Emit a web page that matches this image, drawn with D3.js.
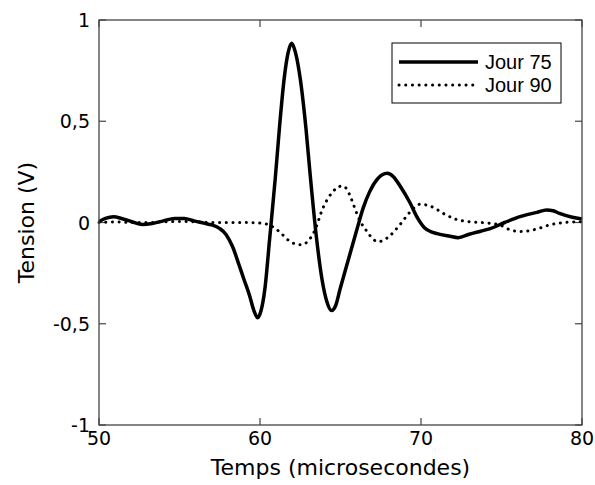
<!DOCTYPE html>
<html>
  <head>
    <style>
    body { margin: 0; background: #fff; }
    .tick-label { font-family: 'DejaVu Sans', sans-serif; font-size: 19px; fill: #000; }
    .axis-title { font-family: 'DejaVu Sans', sans-serif; font-size: 22px; fill: #000; }
    .legend-text { font-family: 'Liberation Sans', Arial, sans-serif; font-size: 20px; fill: #000; }
    </style>
  </head>
  <body>

    <svg width="595" height="485"></svg>

    <script src="https://cdn.jsdelivr.net/npm/d3@7"></script>
    <script>

      // Jour 75 (solid)
      const t75 = [50.0, 50.4, 50.9, 51.4, 52.0, 52.7, 53.3, 54.0, 54.7, 55.3, 55.9, 56.5, 57.0, 57.5, 57.9,
        58.3, 58.7, 59.0, 59.35, 59.6, 59.85, 60.05, 60.3, 60.6, 60.95, 61.2, 61.5, 61.75, 61.97, 62.2,
        62.5, 62.86, 63.1, 63.5, 63.85, 64.15, 64.45, 64.7, 64.97, 65.5, 66.0, 66.4, 66.8, 67.3, 67.9,
        68.3, 68.7, 69.3, 69.8, 70.2, 70.6, 71.0, 71.8, 72.3, 73.0, 73.7, 74.3, 75.2, 76.2, 77.2,
        77.8, 78.2, 78.6, 79.4, 80.0]
      const v75 = [0.005, 0.02, 0.028, 0.02, 0.005, -0.01, -0.005, 0.008, 0.02, 0.02, 0.008, -0.003, -0.012, -0.03, -0.06,
        -0.12, -0.21, -0.28, -0.36, -0.43, -0.47, -0.44, -0.33, -0.08, 0.22, 0.46, 0.71, 0.84, 0.885, 0.84,
        0.71, 0.46, 0.25, -0.07, -0.28, -0.39, -0.435, -0.41, -0.33, -0.18, -0.04, 0.07, 0.15, 0.215, 0.243,
        0.225, 0.18, 0.10, 0.02, -0.025, -0.045, -0.055, -0.068, -0.075, -0.058, -0.043, -0.03, 0.0, 0.03, 0.05,
        0.062, 0.058, 0.045, 0.026, 0.017]

      // Jour 90 (dotted)
      const t90 = [50, 51, 52, 53, 54, 55, 56, 57, 58, 59, 60, 60.5, 61.2, 61.8, 62.3, 62.6, 63.0, 63.4, 63.9,
        64.5, 64.8, 65.1, 65.4, 65.6, 66.2, 66.65, 67.0, 67.3, 67.6, 68.0, 68.7, 69.3, 69.95, 70.6, 71.5,
        72.2, 73.0, 74.3, 74.9, 75.5, 76.2, 77.1, 78.0, 78.9, 80]
      const v90 = [0.0, 0.003, 0.0, 0.0, 0.003, 0.005, 0.003, 0.0, 0.0, 0.0, -0.003, -0.01, -0.045, -0.09, -0.108, -0.11, -0.09, -0.04, 0.07,
        0.15, 0.172, 0.18, 0.165, 0.13, 0.01, -0.045, -0.08, -0.095, -0.09, -0.07, -0.01, 0.05, 0.09, 0.08, 0.04,
        0.015, 0.004, -0.004, -0.012, -0.035, -0.045, -0.034, -0.012, 0.0, 0.004]

      const xTicks = [50, 60, 70, 80]
      const yTicks = [-1, -0.5, 0, 0.5, 1]
      const legendLabels = ['Jour 75', 'Jour 90']

      const svg = d3.select('svg')
      const margin = {top: 20, right: 13, bottom: 60, left: 99}
      const width = +svg.attr('width') - margin.left - margin.right
      const height = +svg.attr('height') - margin.top - margin.bottom

      const x = d3.scaleLinear().domain([50, 80]).range([0, width])
      const y = d3.scaleLinear().domain([-1, 1]).range([height, 0])

      const chart = svg.append('g')
          .attr('transform', 'translate(' + margin.left + ',' + margin.top + ')')

      const fmt = d => String(d).replace('.', ',')
      const tickLen = 7
      const axisColor = '#444'

      // inward ticks on all four sides
      chart.selectAll('.xt').data(xTicks).enter().append('g').each(function (d) {
        const g = d3.select(this)
        g.append('line').attr('x1', x(d)).attr('x2', x(d)).attr('y1', height).attr('y2', height - tickLen)
          .attr('stroke', axisColor).attr('stroke-width', 1.2)
        g.append('line').attr('x1', x(d)).attr('x2', x(d)).attr('y1', 0).attr('y2', tickLen)
          .attr('stroke', axisColor).attr('stroke-width', 1.2)
      })
      chart.selectAll('.yt').data(yTicks).enter().append('g').each(function (d) {
        const g = d3.select(this)
        g.append('line').attr('x1', 0).attr('x2', tickLen).attr('y1', y(d)).attr('y2', y(d))
          .attr('stroke', axisColor).attr('stroke-width', 1.2)
        g.append('line').attr('x1', width).attr('x2', width - tickLen).attr('y1', y(d)).attr('y2', y(d))
          .attr('stroke', axisColor).attr('stroke-width', 1.2)
      })

      chart.selectAll('.xl').data(xTicks).enter().append('text')
          .attr('class', 'tick-label')
          .attr('x', d => x(d))
          .attr('y', height + 20)
          .attr('text-anchor', 'middle')
          .text(d => d)

      chart.selectAll('.yl').data(yTicks).enter().append('text')
          .attr('class', 'tick-label')
          .attr('x', -9)
          .attr('y', d => y(d) + 7)
          .attr('text-anchor', 'end')
          .text(fmt)

      const line = d3.line()
          .x(d => x(d[0]))
          .y(d => y(d[1]))
          .curve(d3.curveMonotoneX)

      chart.append('path')
          .datum(t90.map((t, i) => [t, v90[i]]))
          .attr('d', line)
          .attr('fill', 'none')
          .attr('stroke', '#000')
          .attr('stroke-width', 3)
          .attr('stroke-linecap', 'round')
          .attr('stroke-dasharray', '0.1 6.6')

      chart.append('path')
          .datum(t75.map((t, i) => [t, v75[i]]))
          .attr('d', line)
          .attr('fill', 'none')
          .attr('stroke', '#000')
          .attr('stroke-width', 3.5)
          .attr('stroke-linejoin', 'round')

      // box
      chart.append('rect')
          .attr('width', width).attr('height', height)
          .attr('fill', 'none')
          .attr('stroke', axisColor)
          .attr('stroke-width', 1.3)

      // legend
      const legend = chart.append('g').attr('transform', 'translate(' + (392 - margin.left) + ',' + (43 - margin.top) + ')')
      legend.append('rect')
          .attr('width', 169).attr('height', 60)
          .attr('fill', '#fff').attr('stroke', '#000').attr('stroke-width', 1)
      legendLabels.forEach((lab, i) => {
        const ly = 19 + i * 23
        legend.append('line')
            .attr('x1', 7).attr('x2', 86).attr('y1', ly).attr('y2', ly)
            .attr('stroke', '#000')
            .attr('stroke-width', i === 0 ? 3.5 : 3)
            .attr('stroke-linecap', i === 0 ? 'butt' : 'round')
            .attr('stroke-dasharray', i === 0 ? null : '0.1 6.6')
        legend.append('text')
            .attr('class', 'legend-text')
            .attr('x', 93).attr('y', ly + 7)
            .text(lab)
      })

      svg.append('text')
          .attr('class', 'axis-title')
          .attr('x', margin.left + width / 2)
          .attr('y', 475)
          .attr('text-anchor', 'middle')
          .text('Temps (microsecondes)')

      svg.append('text')
          .attr('class', 'axis-title')
          .attr('transform', 'translate(34,' + (margin.top + height / 2) + ') rotate(-90)')
          .attr('text-anchor', 'middle')
          .text('Tension (V)')

    </script>
  </body>
</html>
